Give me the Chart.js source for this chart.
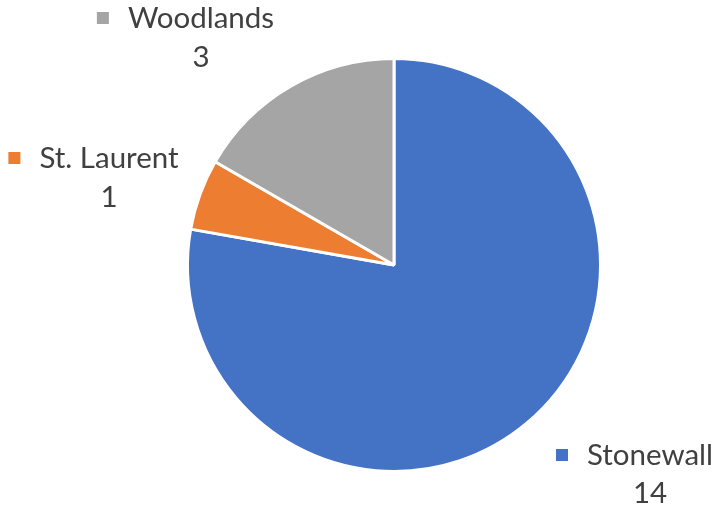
<!DOCTYPE html>
<html>
<head>
<meta charset="utf-8">
<script src="https://cdn.jsdelivr.net/npm/chart.js@4"></script>
<style>
html,body{margin:0;padding:0;background:#fff;}
#wrap{width:715px;height:510px;}
</style>
</head>
<body>
<div id="wrap"><canvas id="c" width="715" height="510"></canvas></div>
<script>
const categories = ["Stonewall", "St. Laurent", "Woodlands"];
const values = [14, 1, 3];
const colors = ["#4472C4", "#ED7D31", "#A5A5A5"];

// label placement (text centre x, first line y, second line y)
const labelPos = [
  {x: 650, y1: 455, y2: 493},
  {x: 109, y1: 158, y2: 197},
  {x: 201, y1: 18, y2: 57}
];

const labelPlugin = {
  id: 'outLabels',
  afterDraw(chart) {
    const ctx = chart.ctx;
    const meta = chart.getDatasetMeta(0);
    ctx.save();
    ctx.font = '29.5px Lato, "Open Sans", sans-serif';
    ctx.textBaseline = 'middle';
    ctx.textAlign = 'center';
    meta.data.forEach((arc, i) => {
      const p = labelPos[i];
      const name = chart.data.labels[i];
      const val = String(chart.data.datasets[0].data[i]);
      const w = ctx.measureText(name).width;
      ctx.fillStyle = '#404040';
      ctx.fillText(name, p.x, p.y1);
      ctx.fillText(val, p.x, p.y2);
      ctx.fillStyle = chart.data.datasets[0].backgroundColor[i];
      const sx = p.x - w / 2 - 19 - 12;
      ctx.fillRect(sx, p.y1 - 6, 12, 12);
    });
    ctx.restore();
  }
};

new Chart(document.getElementById('c'), {
  type: 'pie',
  data: {
    labels: categories,
    datasets: [{
      data: values,
      backgroundColor: colors,
      borderColor: '#ffffff',
      borderWidth: 3
    }]
  },
  options: {
    responsive: false,
    animation: false,
    layout: {padding: {top: 57, bottom: 37, left: 186, right: 113}},
    plugins: {legend: {display: false}, tooltip: {enabled: false}}
  },
  plugins: [labelPlugin]
});
</script>
</body>
</html>
